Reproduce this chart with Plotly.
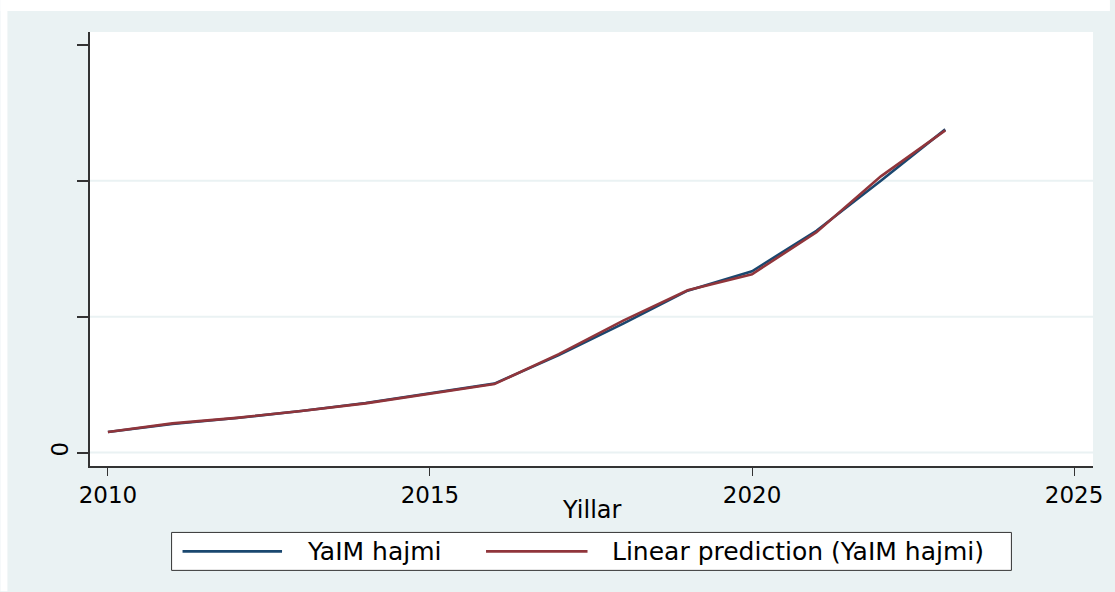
import plotly.graph_objects as go

# ---- data ----
years = list(range(2010, 2024))
yaim_hajmi = [60.3, 83.8, 101.5, 122.1, 145.6, 173.5, 202.9, 286.8, 379.4, 476.5, 533.8, 652.9, 800.0, 951.5]
linear_pred = [60.3, 85.9, 102.1, 122.1, 144.7, 172.1, 201.5, 289.7, 388.2, 477.9, 525.0, 648.5, 813.2, 948.5]
x_ticks = [2010, 2015, 2020, 2025]
y_ticks = [0, 400, 800, 1200]
y_tick_labels = ["0", "", "", ""]
grid_vals = [0, 400, 800]
legend_labels = ["YaIM hajmi", "Linear prediction (YaIM hajmi)"]
x_title = "Yillar"

BLUE = "#1A476F"
RED = "#90353B"
BG = "#EAF2F3"
AX = "#333333"
FONT = "DejaVu Sans"

W, H = 1115, 592
L, R, T, B = 90, 1098, 32, 466.5


def px(x):
    return (x - L) / (R - L)


def py(y):
    return (B - y) / (B - T)


fig = go.Figure()
fig.add_trace(go.Scatter(x=years, y=yaim_hajmi, mode="lines", name=legend_labels[0],
                         line=dict(color=BLUE, width=2.6)))
fig.add_trace(go.Scatter(x=years, y=linear_pred, mode="lines", name=legend_labels[1],
                         line=dict(color=RED, width=2.6)))

shapes = []
# white strips outside the graph background
shapes.append(dict(type="rect", xref="paper", yref="paper", x0=px(0), x1=px(W), y0=py(11), y1=py(0),
                   fillcolor="white", line=dict(width=0), layer="below"))
shapes.append(dict(type="rect", xref="paper", yref="paper", x0=px(0), x1=px(7), y0=py(H), y1=py(0),
                   fillcolor="white", line=dict(width=0), layer="below"))
# gridlines
for g in grid_vals:
    shapes.append(dict(type="line", xref="paper", yref="y", x0=0, x1=1, y0=g, y1=g,
                       line=dict(color=BG, width=2), layer="below"))
# legend box
shapes.append(dict(type="rect", xref="paper", yref="paper", x0=px(172), x1=px(1016), y0=py(571), y1=py(533),
                   fillcolor="white", line=dict(color=AX, width=1)))
shapes.append(dict(type="line", xref="paper", yref="paper", x0=px(183), x1=px(283), y0=py(552), y1=py(552),
                   line=dict(color=BLUE, width=2.6)))
shapes.append(dict(type="line", xref="paper", yref="paper", x0=px(488), x1=px(590), y0=py(552), y1=py(552),
                   line=dict(color=RED, width=2.6)))

annotations = [
    dict(x=px(306), y=py(552), xref="paper", yref="paper", text=legend_labels[0], showarrow=False,
         xanchor="left", yanchor="middle", font=dict(family=FONT, size=25, color="black")),
    dict(x=px(613), y=py(552), xref="paper", yref="paper", text=legend_labels[1], showarrow=False,
         xanchor="left", yanchor="middle", font=dict(family=FONT, size=25, color="black")),
    dict(x=0.5, y=py(511), xref="paper", yref="paper", text=x_title, showarrow=False,
         xanchor="center", yanchor="middle", font=dict(family=FONT, size=24, color="black")),
]

fig.update_layout(
    width=W, height=H,
    margin=dict(l=L, r=W - R, t=T, b=H - B),
    paper_bgcolor=BG, plot_bgcolor="white",
    showlegend=False,
    shapes=shapes, annotations=annotations,
    font=dict(family=FONT, color="black"),
)
fig.update_xaxes(
    range=[2010 - 18 / 64.73, 2025 + 19 / 64.73],
    tickvals=x_ticks, ticks="outside", ticklen=8, tickwidth=1, tickcolor=AX,
    showline=True, linecolor=AX, linewidth=1.5, showgrid=False, zeroline=False,
    tickfont=dict(family=FONT, size=23),
)
fig.update_yaxes(
    range=[-13.5 * 400 / 136, (453 - 32) * 400 / 136],
    tickvals=y_ticks, ticktext=y_tick_labels, tickangle=-90,
    ticks="outside", ticklen=11, tickwidth=1.5, tickcolor=AX,
    showline=True, linecolor=AX, linewidth=1.5, showgrid=False, zeroline=False,
    tickfont=dict(family=FONT, size=23),
)

fig.write_html("out.html", config={"displayModeBar": False},
               post_script="document.body.style.margin='0';document.body.style.overflow='hidden';")
